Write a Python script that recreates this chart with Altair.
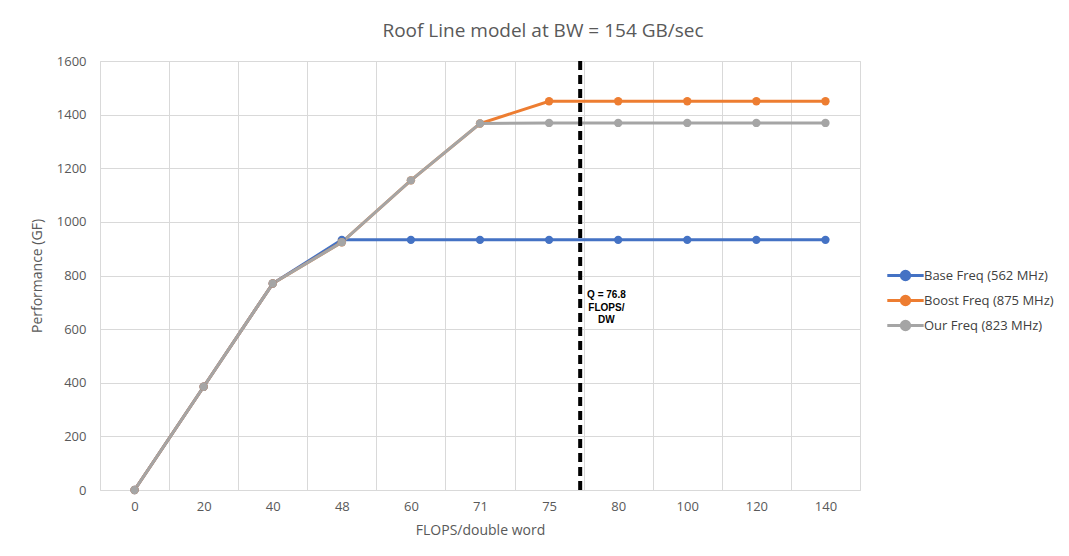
import altair as alt
import pandas as pd

# ---- data ----
x_labels = ['0', '20', '40', '48', '60', '71', '75', '80', '100', '120', '140']
base_freq = [0, 385, 770, 933, 933, 933, 933, 933, 933, 933, 933]
boost_freq = [0, 385, 770, 924, 1155, 1367, 1450, 1450, 1450, 1450, 1450]
our_freq = [0, 385, 770, 924, 1155, 1367, 1369, 1369, 1369, 1369, 1369]
series_names = ['Base Freq (562 MHz)', 'Boost Freq (875 MHz)', 'Our Freq (823 MHz)']
series_colors = ['#4472C4', '#ED7D31', '#A5A5A5']

q_value = 76.8
q_axis_pos = 6.45          # where the Q marker sits on the category axis (between 75 and 80)
q_text = ['Q = 76.8', 'FLOPS/', 'DW']
q_text_pos = (6.83, 727)   # annotation anchor in (axis index, GF)

rows = []
for name, vals in zip(series_names, [base_freq, boost_freq, our_freq]):
    for i, (lab, v) in enumerate(zip(x_labels, vals)):
        rows.append({'idx': i, 'label': lab, 'series': name, 'value': v})
df = pd.DataFrame(rows)

W, H = 760, 429
band = W / len(x_labels)
n = len(x_labels)

label_arr = "[" + ",".join(f"'{l}'" for l in x_labels) + "]"
x_scale = alt.Scale(domain=[-0.5, n - 0.5], nice=False, zero=False)
x_axis = alt.Axis(
    values=[i - 0.5 for i in range(n + 1)],
    labelExpr=f"datum.value < {n - 1} ? {label_arr}[datum.value + 0.5] : ''",
    labelOffset=band / 2, labelFlush=False, labelOverlap=False,
    grid=True, gridColor='#d9d9d9', ticks=False, domain=False,
    title='FLOPS/double word', titleFont='Open Sans', titleFontSize=14,
    titleFontWeight='normal', titleColor='#595959', titlePadding=10,
    labelFont='Open Sans', labelFontSize=13, labelColor='#595959', labelPadding=10,
)
y_axis = alt.Axis(
    values=list(range(0, 1601, 200)), format='d', grid=True, gridColor='#d9d9d9',
    ticks=False, domain=False,
    title='Performance (GF)', titleFont='Open Sans', titleFontSize=14,
    titleFontWeight='normal', titleColor='#595959', titlePadding=12,
    labelFont='Open Sans', labelFontSize=13, labelColor='#595959', labelPadding=14,
)

legend_path = "M-1.4,0L1.4,0M-0.32,0A0.32,0.32,0,1,0,0.32,0A0.32,0.32,0,1,0,-0.32,0"
color = alt.Color(
    'series:N', sort=series_names,
    scale=alt.Scale(domain=series_names, range=series_colors),
    legend=alt.Legend(
        title=None, orient='none', legendX=W + 31, legendY=200,
        symbolType=legend_path, symbolSize=676, symbolStrokeWidth=3,
        rowPadding=0, labelOffset=4, symbolOpacity=1, labelLimit=300,
        labelFont='Open Sans', labelFontSize=13, labelColor='#404040',
    ),
)

base = alt.Chart(df)
lines = base.mark_line(strokeWidth=3).encode(
    x=alt.X('idx:Q', scale=x_scale, axis=x_axis),
    y=alt.Y('value:Q', scale=alt.Scale(domain=[0, 1600], nice=False), axis=y_axis),
    color=color,
    detail='series:N',
)
points = base.mark_point(filled=True, size=70, opacity=1).encode(
    x='idx:Q', y='value:Q', color=color,
)

qdf = pd.DataFrame({'q': [q_axis_pos], 'qv': [q_value]})
qrule = alt.Chart(qdf).mark_rule(color='black', strokeWidth=4, strokeDash=[9, 5]).encode(
    x='q:Q'
)
tdf = pd.DataFrame({'x': [q_text_pos[0]], 'y': [q_text_pos[1]], 't': ['\n'.join(q_text)]})
qtext = alt.Chart(tdf).mark_text(
    font='Liberation Sans', fontSize=10, fontWeight='bold', color='black',
    lineBreak='\n', lineHeight=12.5, align='center', baseline='middle',
).encode(x='x:Q', y='y:Q', text='t:N')

chart = alt.layer(lines, points, qrule, qtext).properties(
    width=W, height=H,
    title=alt.TitleParams('Roof Line model at BW = 154 GB/sec', font='Open Sans',
                          fontSize=19, fontWeight='normal', color='#595959',
                          anchor='middle', dx=63, offset=14),
    autosize=alt.AutoSizeParams(type='none'),
    padding={'left': 92, 'top': 53, 'right': 195, 'bottom': 50},
).configure_view(stroke=None).configure(background='white')

chart.save("out.html", embed_options={"renderer": "svg", "actions": False})
